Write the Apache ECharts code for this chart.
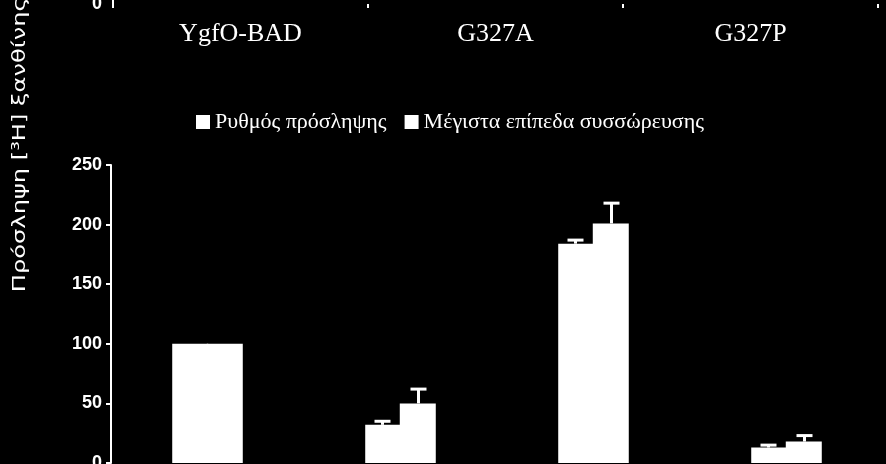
<!DOCTYPE html>
<html><head><meta charset="utf-8">
<script src="https://cdn.jsdelivr.net/npm/echarts@6/dist/echarts.min.js"></script>
<style>html,body{margin:0;padding:0;background:#000;}#c{width:886px;height:464px;}</style>
</head><body><div id="c"></div>
<script>
const topCategories = ['YgfO-BAD', 'G327A', 'G327P'];
const categories = ['YgfO-BAD', 'G327A', 'G327P', 'G327X'];
const seriesNames = ['Ρυθμός πρόσληψης', 'Μέγιστα επίπεδα συσσώρευσης'];
const uptakeRate = [100, 32, 184, 13];
const uptakeRateErr = [0, 3, 3, 2];
const maxAccum = [100, 50, 201, 18];
const maxAccumErr = [0, 12, 17, 5];
const yMin = 0, yMax = 250, yStep = 50;
const yTitle = 'Πρόσληψη [³H] ξανθίνης (%)';

const BAR_W = 36;
const tickFont = { color: '#fff', fontFamily: 'Liberation Sans', fontWeight: 'bold', fontSize: 18 };

function errRender(offset) {
  return function (params, api) {
    const i = api.value(0);
    const top = api.value(1);
    const hi = api.value(2);
    if (hi <= top) return null;
    const p0 = api.coord([i, top]);
    const p1 = api.coord([i, hi]);
    const x = p0[0] + offset;
    return {
      type: 'group',
      children: [
        { type: 'line', shape: { x1: x, y1: p0[1], x2: x, y2: p1[1] }, style: { stroke: '#fff', lineWidth: 3 } },
        { type: 'line', shape: { x1: x - 8, y1: p1[1], x2: x + 8, y2: p1[1] }, style: { stroke: '#fff', lineWidth: 3 } }
      ]
    };
  };
}

const chart = echarts.init(document.getElementById('c'));
chart.setOption({
  backgroundColor: '#000',
  animation: false,
  graphic: [{
    type: 'text', x: 20, y: 120, rotation: Math.PI / 2, scaleX: 1.34,
    style: { text: yTitle, fill: '#fff', font: '18px "DejaVu Sans"', align: 'center', verticalAlign: 'middle' }
  }],
  legend: {
    left: 191, top: 106, itemWidth: 14, itemHeight: 14, itemGap: 18, icon: 'rect',
    data: seriesNames,
    textStyle: { color: '#fff', fontFamily: 'Liberation Serif', fontSize: 22 }
  },
  grid: [
    { left: 113, right: 8, top: -196, height: 200, outerBoundsMode: 'none', containLabel: false },
    { left: 111, right: 3, top: 165, bottom: 1, outerBoundsMode: 'none', containLabel: false }
  ],
  xAxis: [
    {
      gridIndex: 0, type: 'category', data: topCategories, position: 'bottom',
      axisLine: { show: false },
      axisTick: { show: true, length: 4, lineStyle: { color: '#fff', width: 2 } },
      axisLabel: { color: '#fff', fontFamily: 'Liberation Serif', fontSize: 26, margin: 17 }
    },
    {
      gridIndex: 1, type: 'category', data: categories,
      axisLine: { show: false }, axisTick: { show: false }, axisLabel: { show: false }
    }
  ],
  yAxis: [
    {
      gridIndex: 0, type: 'value', min: 0, max: 100, interval: 100,
      axisLine: { show: true, lineStyle: { color: '#fff', width: 2 } },
      axisTick: { show: false }, splitLine: { show: false },
      axisLabel: Object.assign({ margin: 11 }, tickFont)
    },
    {
      gridIndex: 1, type: 'value', min: yMin, max: yMax, interval: yStep,
      axisLine: { show: true, lineStyle: { color: '#fff', width: 2 } },
      axisTick: { show: true, length: 5, lineStyle: { color: '#fff', width: 2 } },
      splitLine: { show: false },
      axisLabel: Object.assign({ margin: 9 }, tickFont)
    }
  ],
  series: [
    {
      name: seriesNames[0], type: 'bar', xAxisIndex: 1, yAxisIndex: 1,
      data: uptakeRate, barWidth: BAR_W, barGap: '-4%',
      itemStyle: { color: '#fff' }
    },
    {
      name: seriesNames[1], type: 'bar', xAxisIndex: 1, yAxisIndex: 1,
      data: maxAccum, barWidth: BAR_W, barGap: '-4%',
      itemStyle: { color: '#fff' }
    },
    {
      type: 'custom', xAxisIndex: 1, yAxisIndex: 1, z: 5,
      renderItem: errRender(-BAR_W / 2),
      data: categories.map((c, i) => [i, uptakeRate[i], uptakeRate[i] + uptakeRateErr[i]])
    },
    {
      type: 'custom', xAxisIndex: 1, yAxisIndex: 1, z: 5,
      renderItem: errRender(BAR_W / 2),
      data: categories.map((c, i) => [i, maxAccum[i], maxAccum[i] + maxAccumErr[i]])
    }
  ]
});
</script>
</body></html>
